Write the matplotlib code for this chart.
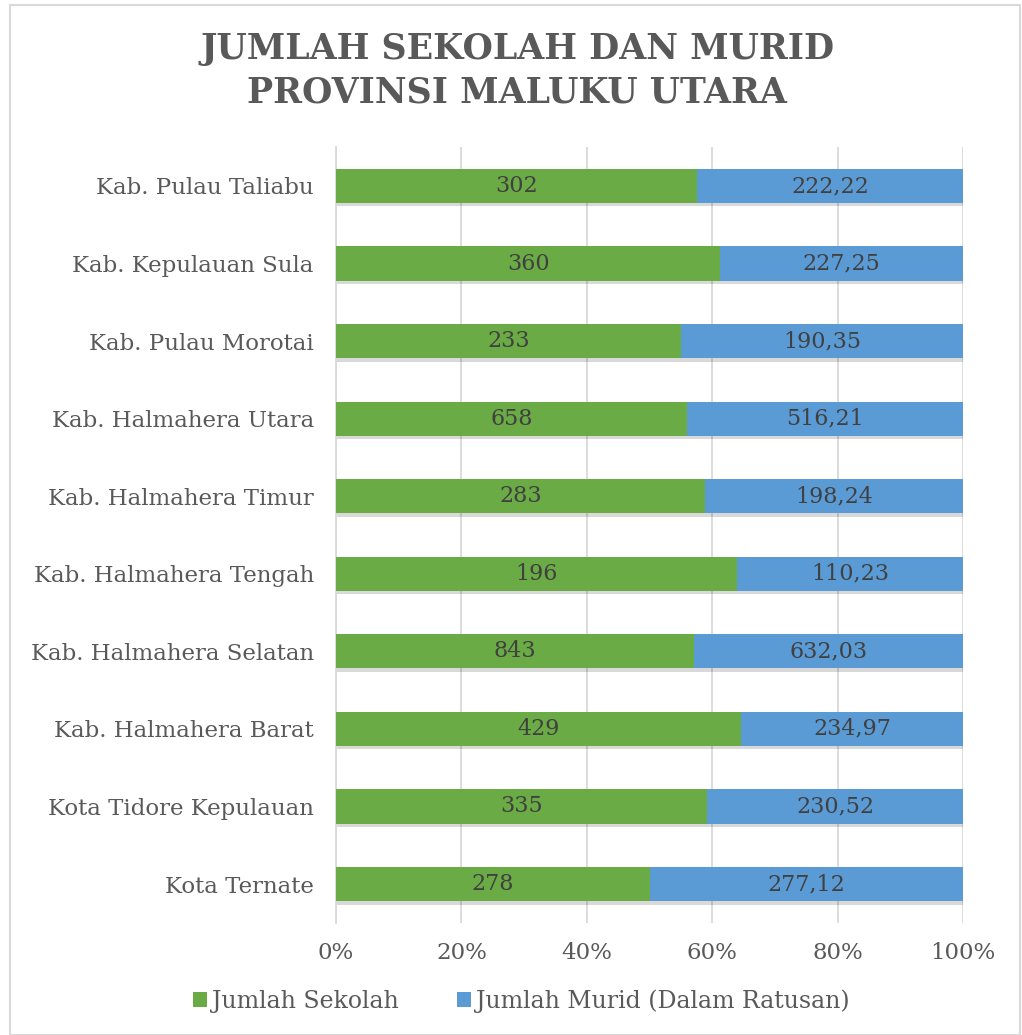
import numpy as np
import matplotlib
matplotlib.use("Agg")
import matplotlib.pyplot as plt
import matplotlib.patheffects as pe
from matplotlib.patches import Rectangle

# data to plot
regions = ["Kota Ternate", "Kota Tidore Kepulauan", "Kab. Halmahera Barat",
           "Kab. Halmahera Selatan", "Kab. Halmahera Tengah", "Kab. Halmahera Timur",
           "Kab. Halmahera Utara", "Kab. Pulau Morotai", "Kab. Kepulauan Sula",
           "Kab. Pulau Taliabu"]
sekolah = [278, 335, 429, 843, 196, 283, 658, 233, 360, 302]
murid = [277.12, 230.52, 234.97, 632.03, 110.23, 198.24, 516.21, 190.35, 227.25, 222.22]
sekolah_labels = ["278", "335", "429", "843", "196", "283", "658", "233", "360", "302"]
murid_labels = ["277,12", "230,52", "234,97", "632,03", "110,23", "198,24",
                "516,21", "190,35", "227,25", "222,22"]

green = "#6aab45"
blue = "#5b9bd5"
text_col = "#595959"
font = "DejaVu Serif"

sek = np.array(sekolah, dtype=float)
mur = np.array(murid, dtype=float)
total = sek + mur
p_sek = sek / total * 100
p_mur = mur / total * 100

fig = plt.figure(figsize=(10.22, 10.35), dpi=100)
ax = fig.add_axes([0.3288, 0.1084, 0.6135, 0.7494])

# chart border
fig.patches.append(Rectangle((0.010, 0.0), 0.988, 0.995, transform=fig.transFigure,
                             fill=False, edgecolor="#d9d9d9", linewidth=1.5))

index = np.arange(len(regions))
bar_h = 0.44
shadow = [pe.SimplePatchShadow(offset=(1, -2.5), shadow_rgbFace="#000000", alpha=0.15),
          pe.Normal()]

b1 = ax.barh(index, p_sek, bar_h, color=green, label="Jumlah Sekolah", zorder=3)
b2 = ax.barh(index, p_mur, bar_h, left=p_sek, color=blue,
             label="Jumlah Murid (Dalam Ratusan)", zorder=3)
for r in list(b1) + list(b2):
    r.set_path_effects(shadow)

for i in index:
    ax.text(p_sek[i] / 2, i, sekolah_labels[i], ha="center", va="center",
            fontsize=16, color="#404040", family=font, zorder=4)
    ax.text(p_sek[i] + p_mur[i] / 2, i, murid_labels[i], ha="center", va="center",
            fontsize=16, color="#404040", family=font, zorder=4)

ax.set_xlim(0, 100)
ax.set_ylim(-0.5, len(regions) - 0.5)
ax.set_xticks([0, 20, 40, 60, 80, 100])
ax.set_xticklabels(["0%", "20%", "40%", "60%", "80%", "100%"])
ax.set_yticks(index)
ax.set_yticklabels(regions)
for lab in ax.get_xticklabels() + ax.get_yticklabels():
    lab.set_family(font)
    lab.set_fontsize(16.5)
    lab.set_color(text_col)
ax.tick_params(axis="both", length=0)
ax.tick_params(axis="x", pad=14)
ax.tick_params(axis="y", pad=16)
ax.xaxis.grid(True, color="#d9d9d9", linewidth=1.3, zorder=0)
ax.set_axisbelow(True)
for s in ["top", "right", "bottom"]:
    ax.spines[s].set_visible(False)
ax.spines["left"].set_color("#d9d9d9")
ax.spines["left"].set_linewidth(1.3)

fig.text(0.506, 0.953, "JUMLAH SEKOLAH DAN MURID", ha="center", va="center",
         fontsize=25, fontweight="bold", color=text_col, family=font)
fig.text(0.506, 0.911, "PROVINSI MALUKU UTARA", ha="center", va="center",
         fontsize=25, fontweight="bold", color=text_col, family=font)

leg = fig.legend(loc="center", bbox_to_anchor=(0.51, 0.033), ncol=2, frameon=False,
                 handlelength=0.6, handleheight=0.6, handletextpad=0.2, columnspacing=2.5,
                 prop={"family": font, "size": 17})
for t in leg.get_texts():
    t.set_color(text_col)
for h in leg.legend_handles:
    h.set_path_effects([])

fig.savefig("out.png", dpi=100)
